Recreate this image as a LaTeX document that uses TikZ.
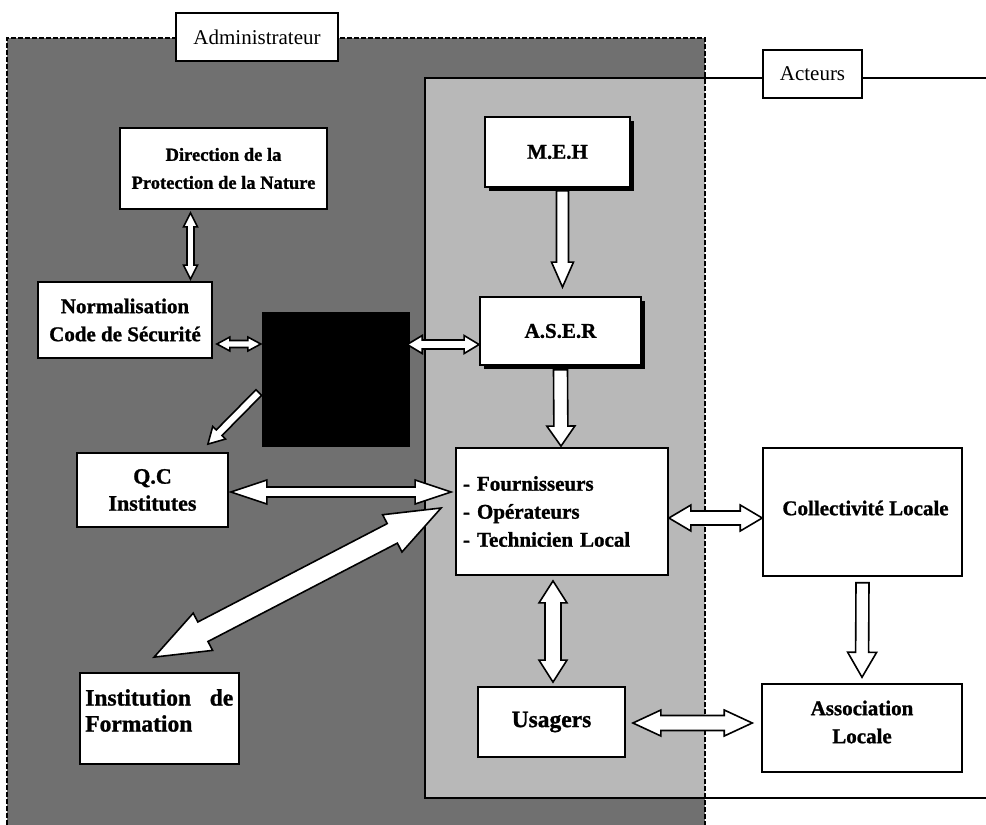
\documentclass[tikz,border=0pt]{standalone}
\usepackage{fontspec}
\setmainfont{Liberation Serif}
\newfontfamily\heavy{Liberation Serif}[BoldFeatures={FakeBold=1.1}]
\usetikzlibrary{calc,shadows}

\definecolor{darkzone}{gray}{0.44}
\definecolor{lightzone}{gray}{0.72}

% hollow double-headed block arrow: start, end, shaft half width, head half width, head length
\newcommand\twoway[5]{%
  \coordinate (ta) at (#1);
  \coordinate (tb) at (#2);
  \coordinate (ha) at ($(ta)!#5!(tb)$);
  \coordinate (hb) at ($(tb)!#5!(ta)$);
  \draw[fatarrow] (ta) -- ($(ha)!#4!90:(tb)$) -- ($(ha)!#3!90:(tb)$)
    -- ($(hb)!#3!-90:(ta)$) -- ($(hb)!#4!-90:(ta)$) -- (tb)
    -- ($(hb)!#4!90:(ta)$) -- ($(hb)!#3!90:(ta)$)
    -- ($(ha)!#3!-90:(tb)$) -- ($(ha)!#4!-90:(tb)$) -- cycle;
}
% hollow single-headed block arrow: start, tip, shaft half width, head half width, head length
\newcommand\oneway[5]{%
  \coordinate (ta) at (#1);
  \coordinate (tb) at (#2);
  \coordinate (hb) at ($(tb)!#5!(ta)$);
  \draw[fatarrow] ($(ta)!#3!90:(tb)$) -- ($(hb)!#3!-90:(ta)$) -- ($(hb)!#4!-90:(ta)$)
    -- (tb) -- ($(hb)!#4!90:(ta)$) -- ($(hb)!#3!90:(ta)$) -- ($(ta)!#3!-90:(tb)$) -- cycle;
}

\begin{document}
\begin{tikzpicture}[x=1pt,y=-1pt,
  box/.style={draw=black, fill=white, line width=1.8pt, inner sep=0pt, align=center,
    font=\heavy\bfseries\fontsize{21}{28}\selectfont},
  shadowed/.style={drop shadow={shadow xshift=3.5pt, shadow yshift=-3.5pt, opacity=1, fill=black}},
  tag/.style={draw=black, fill=white, line width=1.4pt, inner sep=0pt,
    minimum height=48pt, font=\fontsize{21}{26}\selectfont},
  txt/.style={inner sep=0pt, align=center, font=\heavy\bfseries\fontsize{21}{28}\selectfont},
  fatarrow/.style={draw=black, fill=white, line width=1.6pt, line join=miter}]

\fill[white] (0,0) rectangle (986,825);
\useasboundingbox (0,0) rectangle (986,825);

% administrator zone (dark) and actors zone (light)
\fill[darkzone] (7,38) rectangle (705,825);
\fill[lightzone] (425,78) rectangle (705,798);
\draw[line width=1.8pt] (986,78) -- (425,78) -- (425,798) -- (986,798);
\draw[line width=2pt, dash pattern=on 5pt off 2pt] (7,825) -- (7,38) -- (705,38) -- (705,825);

\node[tag, minimum width=162pt] (adm) at (257,37) {Administrateur};
\node[tag, minimum width=99pt] (act) at (812.5,74) {Acteurs};

% administrator side
\node[box, minimum width=207pt, minimum height=81pt,
  font=\heavy\bfseries\fontsize{18.5}{28}\selectfont] (dir) at (223.5,168.5)
  {Direction de la\\Protection de la Nature};
\node[box, minimum width=174pt, minimum height=76pt] (norm) at (125,320)
  {Normalisation\\Code de Sécurité};
\node[fill=black, inner sep=0pt, minimum width=148pt, minimum height=135pt] (blk) at (336,379.5) {};
\node[box, minimum width=151pt, minimum height=74pt,
  font=\heavy\bfseries\fontsize{22}{27}\selectfont] (qc) at (152.5,490) {Q.C\\Institutes};
\node[box, minimum width=159pt, minimum height=91pt] (inst) at (159.5,718.5) {};
\node[txt, align=left, text width=148pt, font=\heavy\bfseries\fontsize{23.5}{26}\selectfont,
  anchor=west] (instT) at ($(inst.west)+(6,-8)$) {Institution\hfill de\\Formation};

% actors side
\node[box, shadowed, minimum width=145pt, minimum height=70pt] (meh) at (557.5,152) {M.E.H};
\node[box, shadowed, minimum width=161pt, minimum height=68pt] (aser) at (560.5,331) {A.S.E.R};
\node[box, minimum width=212pt, minimum height=127pt, text width=198pt, align=left] (four) at (562,511.5)
  {- Fournisseurs\\- Opérateurs\\- Technicien Local};
\node[box, minimum width=147pt, minimum height=70pt,
  font=\heavy\bfseries\fontsize{23.5}{28}\selectfont] (usag) at (551.5,722) {Usagers};
\node[box, line width=1.5pt, minimum width=199pt, minimum height=128pt] (coll) at (862.5,512) {};
\node[txt] (collT) at ($(coll.center)+(3,-4)$) {Collectivité Locale};
\node[box, line width=1.5pt, minimum width=200pt, minimum height=88pt] (assoc) at (862,728) {};
\node[txt] (assocT) at ($(assoc.center)+(0,-6)$) {Association\\Locale};

% links
\twoway{$(dir.south)+(-33,3)$}{$(ta |- norm.north)+(0,-2)$}{3.5pt}{7pt}{14pt}
\twoway{$(norm.east)+(4,24)$}{$(blk.west |- ta)+(-1,0)$}{3.5pt}{7pt}{13pt}
\twoway{$(blk.east)+(-3,-35)$}{aser.west |- ta}{4.5pt}{9pt}{15pt}
\oneway{$(blk.west)+(-3,13)$}{$(qc.north east)+(-21,-8)$}{4pt}{9pt}{16pt}
\twoway{$(qc.east)+(2,2)$}{$(four.west |- ta)+(-4,0)$}{5pt}{12pt}{36pt}
\twoway{$(inst.north west)+(75,-15)$}{$(four.west)+(-14,-3.5)$}{11pt}{21pt}{55pt}
\oneway{$(meh.south)+(5,3)$}{$(aser.north)+(2,-9)$}{6pt}{11pt}{25pt}
\oneway{$(aser.south)+(0,4)$}{$(four.north)+(-1,-1)$}{7pt}{14pt}{20pt}
\twoway{$(four.east)+(0,6.5)$}{coll.west |- ta}{7pt}{13pt}{22pt}
\twoway{$(four.south)+(-9,5)$}{$(ta |- usag.north)+(0,-4)$}{8pt}{14pt}{22pt}
\oneway{$(coll.south)+(0,6)$}{$(assoc.north)+(0,-6)$}{6.5pt}{14.5pt}{25pt}
\twoway{$(usag.east)+(7,1)$}{$(assoc.west |- ta)+(-9,0)$}{7.5pt}{13pt}{28pt}

\end{tikzpicture}
\end{document}
